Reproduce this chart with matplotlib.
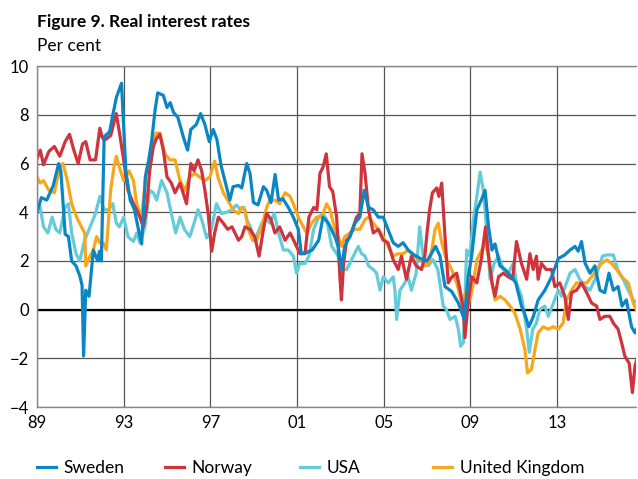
import matplotlib.pyplot as plt

plt.rcParams['font.family'] = ['Lato', 'DejaVu Sans']

# dates as decimal years, values in per cent
sweden_t = [1989.0, 1989.2, 1989.45, 1989.6, 1989.75, 1990.0, 1990.1, 1990.3, 1990.45, 1990.6,
            1990.8, 1990.97, 1991.08, 1991.15, 1991.25, 1991.4, 1991.6, 1991.8, 1991.88, 1991.97,
            1992.1, 1992.35, 1992.5, 1992.66, 1992.9, 1993.1, 1993.3, 1993.5, 1993.68, 1993.83,
            1994.0, 1994.15, 1994.3, 1994.45, 1994.57, 1994.83, 1995.0, 1995.15, 1995.3, 1995.5,
            1995.75, 1995.95, 1996.1, 1996.35, 1996.55, 1996.75, 1996.95, 1997.13, 1997.3, 1997.5,
            1997.7, 1997.9, 1998.05, 1998.3, 1998.45, 1998.68, 1998.83, 1998.99, 1999.2, 1999.45,
            1999.6, 1999.8, 1999.99, 2000.15, 2000.35, 2000.6, 2000.83, 2001.06, 2001.2, 2001.45,
            2001.7, 2002.0, 2002.2, 2002.45, 2002.75, 2002.9, 2003.05, 2003.2, 2003.44, 2003.67,
            2003.9, 2004.1, 2004.3, 2004.52, 2004.75, 2004.98, 2005.2, 2005.44, 2005.67, 2005.9,
            2006.13, 2006.4, 2006.7, 2007.0, 2007.2, 2007.4, 2007.6, 2007.83, 2008.14, 2008.45,
            2008.72, 2008.9, 2009.06, 2009.3, 2009.53, 2009.68, 2009.84, 2010.0, 2010.14, 2010.37,
            2010.6, 2010.9, 2011.1, 2011.36, 2011.5, 2011.7, 2011.9, 2012.13, 2012.44, 2012.75,
            2013.06, 2013.36, 2013.6, 2013.83, 2013.98, 2014.13, 2014.3, 2014.52, 2014.75, 2014.98,
            2015.2, 2015.4, 2015.6, 2015.82, 2016.0, 2016.2, 2016.44, 2016.6, 2016.73]
sweden_v = [4.0, 4.6, 4.5, 4.8, 5.1, 6.0, 5.7, 3.1, 3.0, 2.0,
            1.8, 1.4, 1.0, -1.9, 0.8, 0.55, 2.45, 2.0, 2.4, 2.0,
            7.1, 7.3, 8.0, 8.7, 9.3, 5.7, 4.5, 4.1, 3.3, 2.7,
            5.45, 6.1, 7.0, 8.2, 8.9, 8.8, 8.3, 8.5, 8.1, 7.9,
            7.1, 6.55, 7.4, 7.6, 8.05, 7.6, 6.9, 7.4, 7.0, 5.9,
            5.2, 4.5, 5.05, 5.1, 5.0, 6.0, 5.6, 4.4, 4.3, 5.05,
            4.9, 4.4, 5.55, 4.5, 4.55, 4.2, 3.8, 3.3, 2.3, 2.35,
            2.45, 2.85, 3.8, 3.55, 3.0, 2.6, 1.65, 2.6, 3.0, 3.55,
            3.8, 4.9, 4.2, 4.1, 3.8, 3.8, 3.3, 2.75, 2.6, 2.75,
            2.45, 2.25, 2.1, 2.0, 2.3, 2.6, 2.2, 0.95, 0.75, 0.27,
            -0.4, 1.35, 2.2, 4.1, 4.55, 4.9, 3.4, 2.45, 2.7, 1.8,
            1.65, 1.35, 1.1, 0.15, -0.15, -0.7, -0.3, 0.4, 0.8, 1.35,
            2.1, 2.25, 2.45, 2.6, 2.4, 2.8, 1.9, 1.5, 1.8, 0.8,
            0.7, 1.5, 0.8, 0.95, 0.15, 0.4, -0.7, -0.95, -0.7]

norway_t = [1989.0, 1989.15, 1989.3, 1989.55, 1989.8, 1990.05, 1990.3, 1990.5, 1990.7, 1990.9,
            1991.1, 1991.25, 1991.45, 1991.7, 1991.9, 1992.0, 1992.1, 1992.4, 1992.66, 1992.8,
            1993.0, 1993.2, 1993.45, 1993.6, 1993.75, 1993.9, 1994.05, 1994.2, 1994.37, 1994.5,
            1994.67, 1994.83, 1995.0, 1995.2, 1995.37, 1995.6, 1995.9, 1996.1, 1996.25, 1996.43,
            1996.6, 1996.75, 1996.9, 1997.06, 1997.2, 1997.37, 1997.6, 1997.8, 1998.0, 1998.3,
            1998.45, 1998.6, 1998.83, 1999.05, 1999.25, 1999.45, 1999.6, 1999.8, 1999.98, 2000.2,
            2000.45, 2000.68, 2000.9, 2001.13, 2001.37, 2001.55, 2001.77, 2001.92, 2002.06, 2002.2,
            2002.35, 2002.5, 2002.65, 2002.83, 2002.98, 2003.05, 2003.15, 2003.29, 2003.44, 2003.6,
            2003.75, 2003.9, 2004.0, 2004.14, 2004.3, 2004.52, 2004.75, 2004.98, 2005.2, 2005.44,
            2005.67, 2005.82, 2006.05, 2006.28, 2006.5, 2006.75, 2006.9, 2007.0, 2007.12, 2007.25,
            2007.45, 2007.55, 2007.68, 2007.83, 2007.98, 2008.15, 2008.37, 2008.55, 2008.68, 2008.75,
            2008.9, 2009.06, 2009.3, 2009.53, 2009.7, 2009.84, 2010.0, 2010.14, 2010.3, 2010.52,
            2010.75, 2010.95, 2011.13, 2011.36, 2011.6, 2011.75, 2011.9, 2012.05, 2012.13, 2012.28,
            2012.5, 2012.75, 2012.9, 2013.13, 2013.36, 2013.52, 2013.67, 2013.9, 2014.13, 2014.37,
            2014.6, 2014.83, 2014.98, 2015.2, 2015.44, 2015.6, 2015.82, 2015.98, 2016.13, 2016.33,
            2016.48, 2016.6, 2016.73]
norway_v = [6.2, 6.55, 5.95, 6.5, 6.7, 6.3, 6.9, 7.2, 6.55, 6.0,
            6.8, 6.9, 6.15, 6.15, 7.45, 7.1, 6.95, 7.15, 8.05, 7.3,
            6.15, 4.9, 4.35, 4.1, 3.8, 3.4, 4.1, 5.7, 6.7, 7.0,
            7.2, 6.55, 5.45, 5.2, 4.8, 5.2, 4.35, 6.0, 5.7, 6.15,
            5.7, 4.9, 3.95, 2.4, 3.15, 3.8, 3.55, 3.3, 3.4, 2.85,
            3.0, 3.4, 3.3, 3.0, 2.2, 3.3, 3.95, 3.7, 3.15, 3.4,
            2.85, 3.15, 2.75, 2.3, 2.3, 3.8, 4.2, 4.1, 5.6, 5.85,
            6.4, 5.05, 4.85, 3.8, 1.35, 0.4, 1.9, 2.85, 3.0, 3.4,
            3.8, 3.95, 6.4, 5.6, 4.1, 3.15, 3.3, 2.85, 2.75, 2.05,
            1.65, 2.2, 1.25, 2.2, 1.8, 1.65, 2.2, 3.15, 4.1, 4.8,
            5.0, 4.65, 5.2, 3.0, 1.1, 1.35, 1.5, 0.7, 0.0, -1.15,
            0.27, 1.35, 1.1, 2.2, 3.4, 2.2, 1.1, 0.55, 1.35, 1.5,
            1.35, 1.25, 2.8, 1.9, 1.25, 2.3, 1.65, 2.2, 1.25, 1.9,
            1.65, 1.65, 0.95, 1.1, 0.55, -0.4, 0.7, 0.8, 1.1, 0.7,
            0.27, 0.15, -0.4, -0.27, -0.27, -0.55, -0.8, -1.35, -1.9, -2.2,
            -3.4, -2.3, -1.9]

usa_t = [1989.0, 1989.15, 1989.3, 1989.5, 1989.7, 1989.87, 1990.05, 1990.3, 1990.45, 1990.6,
         1990.8, 1990.97, 1991.2, 1991.45, 1991.7, 1991.9, 1992.1, 1992.3, 1992.5, 1992.66,
         1992.8, 1993.0, 1993.2, 1993.45, 1993.6, 1993.75, 1993.98, 1994.2, 1994.37, 1994.52,
         1994.75, 1995.0, 1995.2, 1995.4, 1995.6, 1995.8, 1996.05, 1996.25, 1996.43, 1996.6,
         1996.83, 1997.05, 1997.28, 1997.5, 1997.75, 1997.98, 1998.2, 1998.4, 1998.55, 1998.68,
         1998.85, 1999.06, 1999.3, 1999.52, 1999.75, 1999.95, 2000.15, 2000.37, 2000.6, 2000.83,
         2000.98, 2001.13, 2001.37, 2001.55, 2001.77, 2002.0, 2002.2, 2002.37, 2002.6, 2002.83,
         2002.98, 2003.13, 2003.29, 2003.44, 2003.6, 2003.83, 2003.98, 2004.14, 2004.3, 2004.52,
         2004.67, 2004.83, 2004.98, 2005.21, 2005.44, 2005.52, 2005.6, 2005.75, 2005.98, 2006.13,
         2006.28, 2006.5, 2006.66, 2006.82, 2007.05, 2007.28, 2007.5, 2007.75, 2007.9, 2008.06,
         2008.3, 2008.45, 2008.55, 2008.68, 2008.83, 2008.98, 2009.14, 2009.3, 2009.45, 2009.6,
         2009.75, 2009.91, 2010.1, 2010.3, 2010.52, 2010.75, 2010.98, 2011.13, 2011.36, 2011.6,
         2011.72, 2011.88, 2012.05, 2012.2, 2012.44, 2012.6, 2012.83, 2013.06, 2013.21, 2013.44,
         2013.6, 2013.83, 2014.05, 2014.29, 2014.52, 2014.75, 2015.1, 2015.33, 2015.6, 2015.8,
         2016.0, 2016.29, 2016.52, 2016.73]
usa_v = [4.35, 4.2, 3.4, 3.15, 3.8, 3.3, 3.15, 4.2, 4.35, 3.15,
         2.3, 2.0, 2.85, 3.4, 3.95, 4.65, 4.1, 4.1, 4.35, 3.55,
         3.4, 3.8, 3.0, 2.8, 3.15, 2.75, 3.4, 4.9, 4.8, 4.5,
         5.3, 4.8, 3.95, 3.15, 3.8, 3.3, 3.0, 3.55, 4.1, 3.7,
         2.95, 3.3, 4.35, 3.95, 4.0, 4.1, 4.3, 4.1, 4.2, 3.7,
         3.4, 2.85, 3.4, 3.8, 3.55, 3.95, 3.15, 2.45, 2.45, 2.2,
         1.5, 1.9, 1.9, 2.2, 3.3, 3.8, 3.95, 3.7, 2.6, 2.3,
         2.05, 1.65, 1.65, 1.9, 2.2, 2.6, 2.3, 2.2, 1.8, 1.65,
         1.5, 0.8, 1.35, 1.1, 1.35, 0.8, -0.4, 0.8, 1.1, 1.35,
         0.8, 1.5, 3.4, 2.2, 1.8, 2.05, 1.65, 0.15, 0.0, -0.4,
         -0.27, -0.8, -1.5, -1.35, 2.45, 2.2, 3.7, 4.65, 5.65, 4.9,
         3.3, 1.25, 1.9, 2.2, 1.65, 1.5, 1.9, 1.1, 0.55, -0.8,
         -1.75, -0.8, -0.55, 0.0, 0.15, -0.27, 0.27, 0.8, 0.55, 1.1,
         1.5, 1.65, 1.25, 0.95, 0.8, 1.25, 2.2, 2.25, 2.25, 1.65,
         1.35, 0.8, 0.4, 0.27]

uk_t = [1989.0, 1989.15, 1989.3, 1989.55, 1989.8, 1990.05, 1990.2, 1990.4, 1990.6, 1990.83,
        1991.05, 1991.2, 1991.25, 1991.45, 1991.6, 1991.75, 1991.9, 1992.05, 1992.2, 1992.4,
        1992.55, 1992.66, 1992.8, 1993.0, 1993.25, 1993.45, 1993.6, 1993.7, 1993.83, 1994.05,
        1994.3, 1994.5, 1994.67, 1994.9, 1995.13, 1995.37, 1995.6, 1995.83, 1996.05, 1996.28,
        1996.5, 1996.75, 1996.98, 1997.2, 1997.35, 1997.6, 1997.8, 1998.05, 1998.3, 1998.45,
        1998.6, 1998.75, 1998.95, 1999.14, 1999.37, 1999.6, 1999.75, 1999.98, 2000.2, 2000.45,
        2000.68, 2000.83, 2001.06, 2001.29, 2001.45, 2001.68, 2001.9, 2002.14, 2002.37, 2002.52,
        2002.75, 2002.9, 2003.05, 2003.2, 2003.44, 2003.67, 2003.9, 2004.14, 2004.3, 2004.52,
        2004.75, 2004.98, 2005.2, 2005.44, 2005.67, 2005.9, 2006.13, 2006.4, 2006.7, 2006.9,
        2007.1, 2007.25, 2007.37, 2007.52, 2007.68, 2007.9, 2008.14, 2008.37, 2008.6, 2008.83,
        2008.98, 2009.14, 2009.3, 2009.53, 2009.68, 2009.84, 2010.0, 2010.14, 2010.37, 2010.6,
        2010.83, 2011.06, 2011.3, 2011.52, 2011.64, 2011.82, 2011.98, 2012.13, 2012.36, 2012.6,
        2012.83, 2013.06, 2013.28, 2013.44, 2013.67, 2013.9, 2014.13, 2014.37, 2014.6, 2014.83,
        2015.06, 2015.29, 2015.52, 2015.75, 2015.98, 2016.29, 2016.52, 2016.73]
uk_v = [5.45, 5.2, 5.3, 4.9, 4.8, 5.85, 6.0, 5.3, 4.35, 3.8,
        3.4, 3.15, 1.8, 2.2, 2.45, 3.0, 2.75, 2.75, 2.45, 4.9,
        5.85, 6.3, 5.85, 5.3, 5.7, 5.3, 4.35, 4.1, 3.8, 5.7,
        6.7, 7.25, 7.25, 6.4, 6.15, 6.15, 5.3, 4.9, 5.45, 5.6,
        5.45, 5.3, 5.45, 6.1, 5.45, 4.8, 4.5, 4.1, 3.95, 4.2,
        4.1, 3.3, 2.85, 2.85, 3.4, 4.2, 4.5, 4.5, 4.35, 4.8,
        4.65, 4.35, 3.8, 3.4, 3.15, 3.55, 3.8, 3.8, 4.35, 4.1,
        3.3, 3.0, 2.6, 3.0, 3.15, 3.3, 3.3, 3.7, 3.8, 3.55,
        3.3, 3.0, 2.6, 2.2, 2.3, 2.3, 2.45, 2.2, 2.05, 1.8,
        1.9, 2.6, 3.3, 3.55, 2.75, 2.05, 1.65, 1.1, 0.27, 0.8,
        0.4, 1.1, 2.05, 2.45, 2.75, 2.2, 1.1, 0.4, 0.55, 0.4,
        0.15, -0.15, -0.8, -1.65, -2.6, -2.45, -1.65, -0.95, -0.7, -0.8,
        -0.7, -0.8, -0.55, 0.4, 0.8, 1.1, 1.1, 1.1, 1.35, 1.65,
        1.9, 2.05, 1.9, 1.65, 1.35, 1.1, 0.27, -0.15]

year_ticks = [1989, 1993, 1997, 2001, 2005, 2009, 2013]
year_labels = ['89', '93', '97', '01', '05', '09', '13']

fig = plt.figure(figsize=(6.38, 4.79), dpi=100)
ax = fig.add_axes([0.058, 0.150, 0.939, 0.712])

ax.plot(usa_t, usa_v, color='#63cbd9', lw=2.3, label='USA')
ax.plot(uk_t, uk_v, color='#f8a71c', lw=2.3, label='United Kingdom')
ax.plot(norway_t, norway_v, color='#cf333b', lw=2.3, label='Norway')
ax.plot(sweden_t, sweden_v, color='#0a86c5', lw=2.3, label='Sweden')

ax.set_xlim(1989, 2016.65)
ax.set_ylim(-4, 10)
ax.set_yticks(range(-4, 11, 2))
ax.set_xticks(year_ticks)
ax.set_xticklabels(year_labels)
ax.tick_params(labelsize=12, length=0, pad=6)
ax.grid(True, color='#555555', lw=0.9)
ax.set_axisbelow(True)
ax.axhline(0, color='black', lw=1.6, zorder=1.5)
for s in ['left', 'top', 'bottom', 'right']:
    ax.spines[s].set_color('#888888')
    ax.spines[s].set_linewidth(1.0)
ax.spines['right'].set_visible(False)

fig.text(0.058, 0.955, 'Figure 9. Real interest rates', fontsize=12.5, fontweight='bold', va='center')
fig.text(0.058, 0.905, 'Per cent', fontsize=12.5, va='center')

# one legend entry per slot so the columns are evenly spaced
h, l = ax.get_legend_handles_labels()
order = [3, 2, 0, 1]
slots = [21, 149, 284, 417]
for i, x in zip(order, slots):
    fig.legend([h[i]], [l[i]], loc='center left', bbox_to_anchor=(x / 638, 0.022),
               frameon=False, fontsize=12.5, handlelength=1.1, handletextpad=0.45)

fig.savefig('out.png', dpi=100)
